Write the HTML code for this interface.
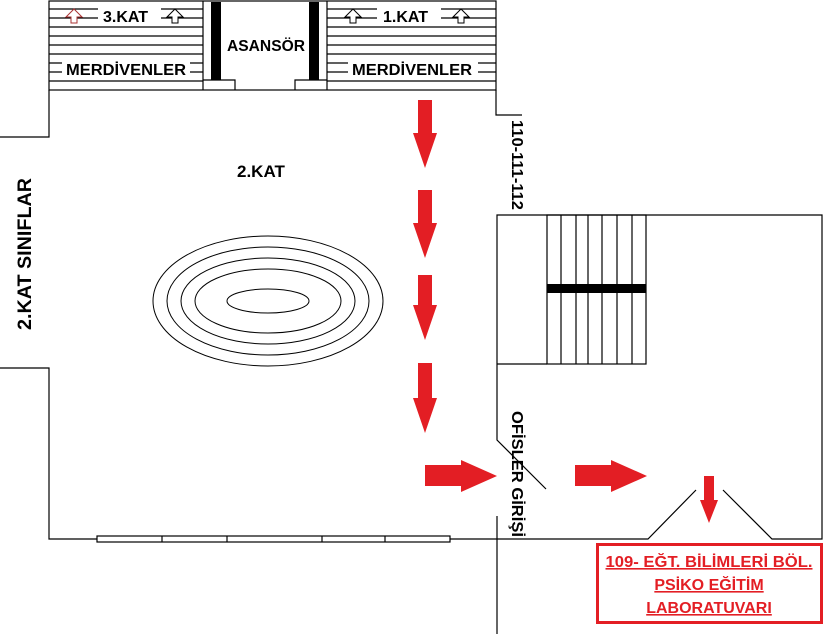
<!DOCTYPE html>
<html><head><style>body{margin:0;background:#fff}svg{display:block}text{font-family:"Liberation Sans",sans-serif;font-weight:bold}</style></head>
<body>
<svg width="834" height="634" viewBox="0 0 834 634" xmlns="http://www.w3.org/2000/svg">
<rect width="834" height="634" fill="#fff"/>
<g stroke="#000" stroke-width="1.2" fill="none">
<rect x="49" y="1" width="447" height="89"/>
<line x1="203" y1="1" x2="203" y2="90"/><line x1="327" y1="1" x2="327" y2="90"/>
<g>
<line x1="49" y1="9" x2="203" y2="9"/><line x1="49" y1="18" x2="203" y2="18"/><line x1="49" y1="27" x2="203" y2="27"/><line x1="49" y1="36" x2="203" y2="36"/><line x1="49" y1="45" x2="203" y2="45"/><line x1="49" y1="54" x2="203" y2="54"/><line x1="49" y1="63" x2="203" y2="63"/><line x1="49" y1="72" x2="203" y2="72"/><line x1="49" y1="81" x2="203" y2="81"/>
<line x1="327" y1="9" x2="496" y2="9"/><line x1="327" y1="18" x2="496" y2="18"/><line x1="327" y1="27" x2="496" y2="27"/><line x1="327" y1="36" x2="496" y2="36"/><line x1="327" y1="45" x2="496" y2="45"/><line x1="327" y1="54" x2="496" y2="54"/><line x1="327" y1="63" x2="496" y2="63"/><line x1="327" y1="72" x2="496" y2="72"/><line x1="327" y1="81" x2="496" y2="81"/>
</g>
<polyline points="203,80 235,80 235,90"/><polyline points="327,80 295,80 295,90"/>
<polyline points="49,90 49,137 0,137"/>
<polyline points="496,90 496,115 522,115"/>
<polyline points="0,368 49,368 49,539 648,539 696,490"/>
<polyline points="723,490 772,539 822,539 822,215 497,215 497,440 546,489"/>
<line x1="497" y1="516" x2="497" y2="634"/>
<rect x="547" y="215" width="99" height="149"/>
<line x1="497" y1="364" x2="547" y2="364"/>
<line x1="561" y1="215" x2="561" y2="364"/><line x1="576" y1="215" x2="576" y2="364"/><line x1="588" y1="215" x2="588" y2="364"/><line x1="602" y1="215" x2="602" y2="364"/><line x1="617" y1="215" x2="617" y2="364"/><line x1="632" y1="215" x2="632" y2="364"/>
<rect x="97" y="536" width="353" height="6" fill="#fff"/>
<line x1="162" y1="536" x2="162" y2="542"/><line x1="227" y1="536" x2="227" y2="542"/><line x1="322" y1="536" x2="322" y2="542"/><line x1="385" y1="536" x2="385" y2="542"/>
<g stroke-width="1">
<ellipse cx="268" cy="301" rx="115" ry="65"/><ellipse cx="268" cy="301" rx="101" ry="54"/><ellipse cx="268" cy="301" rx="87" ry="43"/><ellipse cx="268" cy="301" rx="73" ry="32"/><ellipse cx="268" cy="301" rx="41" ry="12"/>
</g>
</g>
<rect x="211" y="2" width="10" height="78" fill="#000"/><rect x="309" y="2" width="10" height="78" fill="#000"/>
<rect x="547" y="284" width="99" height="9" fill="#000"/>
<rect x="98" y="3" width="63" height="22" fill="#fff"/><rect x="377" y="3" width="64" height="22" fill="#fff"/>
<rect x="62" y="57" width="128" height="22" fill="#fff"/><rect x="348" y="57" width="130" height="22" fill="#fff"/>
<g stroke-width="1" fill="#fff">
<polygon points="66,17 71,17 71,23 77,23 77,17 82,17 74,9" stroke="#a33"/>
<polygon points="167,17 172,17 172,23 178,23 178,17 183,17 175,9" stroke="#000"/>
<polygon points="345,17 350,17 350,23 356,23 356,17 361,17 353,9" stroke="#000"/>
<polygon points="453,17 458,17 458,23 464,23 464,17 469,17 461,9" stroke="#000"/>
</g>
<g font-size="16" fill="#000">
<text x="103" y="22">3.KAT</text><text x="383" y="22">1.KAT</text>
<text x="66" y="75" textLength="120" lengthAdjust="spacingAndGlyphs">MERDİVENLER</text><text x="352" y="75" textLength="120" lengthAdjust="spacingAndGlyphs">MERDİVENLER</text>
<text x="227" y="51" textLength="78" lengthAdjust="spacingAndGlyphs">ASANSÖR</text>
<text x="237" y="177" font-size="17">2.KAT</text>
<text transform="translate(31,330) rotate(-90)" font-size="19" textLength="152" lengthAdjust="spacingAndGlyphs">2.KAT SINIFLAR</text>
<text transform="translate(512,120) rotate(90)" font-size="16" textLength="90" lengthAdjust="spacingAndGlyphs">110-111-112</text>
<text transform="translate(512,411) rotate(90)" font-size="16" textLength="126" lengthAdjust="spacingAndGlyphs">OFİSLER GİRİŞİ</text>
</g>
<g fill="#e31e24">
<polygon points="418,100 432,100 432,133 437,133 425,168 413,133 418,133"/>
<polygon points="418,190 432,190 432,223 437,223 425,258 413,223 418,223"/>
<polygon points="418,275 432,275 432,305 437,305 425,340 413,305 418,305"/>
<polygon points="418,363 432,363 432,398 437,398 425,433 413,398 418,398"/>
<polygon points="425,465 461,465 461,460 497,476 461,492 461,486 425,486"/>
<polygon points="575,465 611,465 611,460 647,476 611,492 611,486 575,486"/>
<polygon points="704,476 714,476 714,500 718,500 709,523 700,500 704,500"/>
</g>
<rect x="597.5" y="544.5" width="224" height="78" fill="none" stroke="#e31e24" stroke-width="3"/>
<g fill="#e31e24" font-size="16" text-anchor="middle" text-decoration="underline">
<text x="709" y="567" textLength="207" lengthAdjust="spacingAndGlyphs">109- EĞT. BİLİMLERİ BÖL.</text>
<text x="709" y="590">PSİKO EĞİTİM</text>
<text x="709" y="613">LABORATUVARI</text>
</g>
</svg>
</body></html>
